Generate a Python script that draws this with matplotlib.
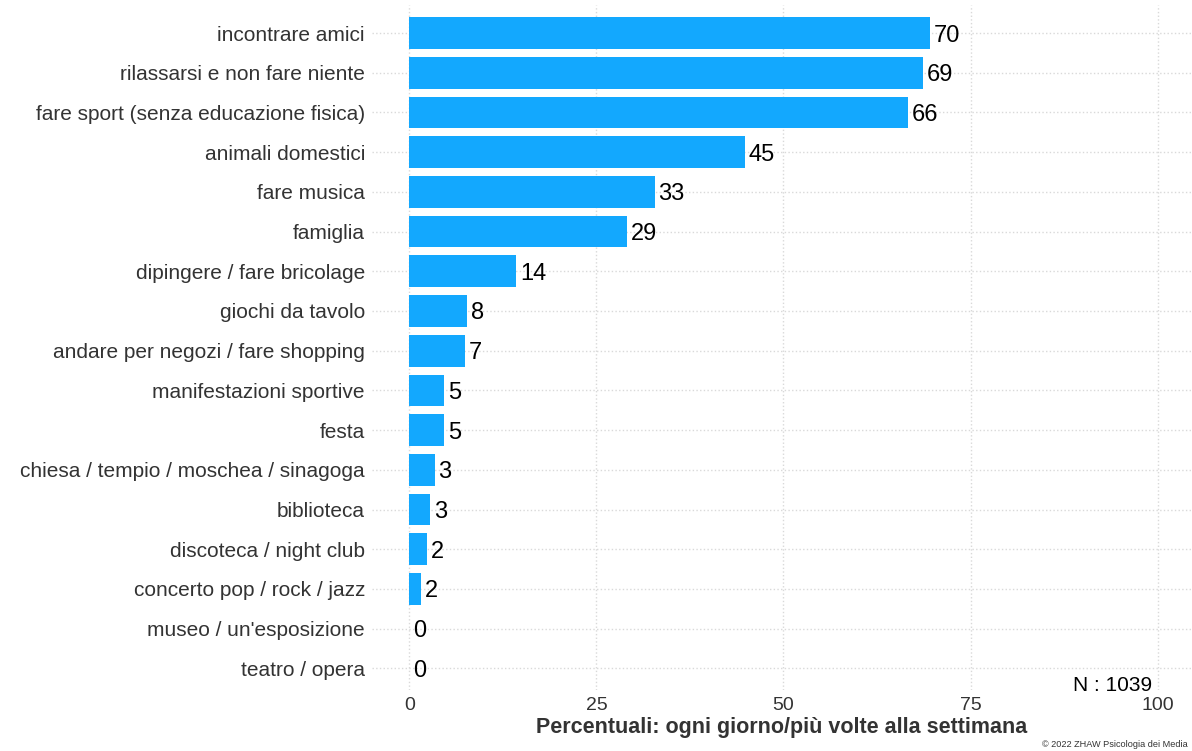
import matplotlib.pyplot as plt

plt.rcParams['font.family'] = ['Liberation Sans', 'DejaVu Sans']

categorie = [
    "incontrare amici",
    "rilassarsi e non fare niente",
    "fare sport (senza educazione fisica)",
    "animali domestici",
    "fare musica",
    "famiglia",
    "dipingere / fare bricolage",
    "giochi da tavolo",
    "andare per negozi / fare shopping",
    "manifestazioni sportive",
    "festa",
    "chiesa / tempio / moschea / sinagoga",
    "biblioteca",
    "discoteca / night club",
    "concerto pop / rock / jazz",
    "museo / un'esposizione",
    "teatro / opera",
]
valori = [69.6, 68.6, 66.6, 44.8, 32.8, 29.1, 14.3, 7.7, 7.4, 4.7, 4.7, 3.4, 2.8, 2.4, 1.6, 0, 0]
etichette = ["70", "69", "66", "45", "33", "29", "14", "8", "7", "5", "5", "3", "3", "2", "2", "0", "0"]
x_ticks = [0, 25, 50, 75, 100]

fig = plt.figure(figsize=(11.92, 7.51), dpi=100)
ax = fig.add_axes([0.312, 0.081, 0.688, 0.912])

y = list(range(len(categorie)))[::-1]
ax.barh(y, valori, height=0.8, color='#13a8fe', zorder=3)
for yi, v, lab in zip(y, valori, etichette):
    ax.text(v + 0.5, yi, lab, va='center_baseline', ha='left', fontsize=17, color='black', zorder=4)

ax.set_yticks(y)
ax.set_yticklabels(categorie, fontsize=15, color='#333333')
ax.set_xticks(x_ticks)
ax.set_xticklabels([str(t) for t in x_ticks], fontsize=14, color='#333333')
ax.set_xlim(-5, 104.6)
ax.set_ylim(-0.55, len(categorie) - 0.3)
ax.tick_params(axis='both', length=0, pad=5)
ax.grid(True, color='#d9d9d9', linestyle=':', linewidth=1, zorder=0)
for s in ax.spines.values():
    s.set_visible(False)

ax.set_xlabel("Percentuali: ogni giorno/più volte alla settimana", fontsize=15.5,
              fontweight='bold', color='#333333', labelpad=2)
ax.text(94.0, -0.42, "N : 1039", ha='center', va='center', fontsize=15, color='black')
fig.text(0.874, 0.002, "© 2022 ZHAW Psicologia dei Media", ha='left', va='bottom',
         fontsize=6.6, color='#333333')

fig.savefig("out.png", dpi=100)
